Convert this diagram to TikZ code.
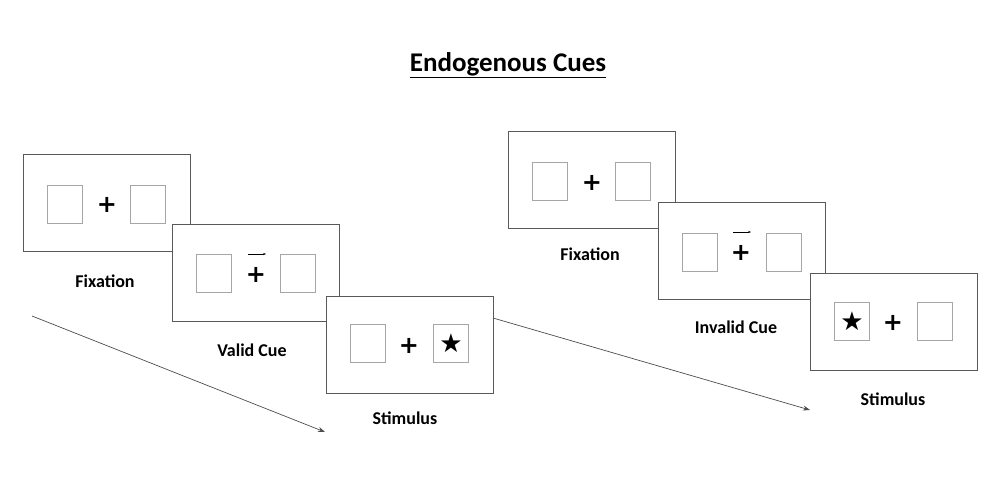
\documentclass[tikz,border=0pt]{standalone}
\usepackage{fontspec}
\setmainfont{Carlito}
\newfontfamily\symf{DejaVu Sans}
\usetikzlibrary{arrows.meta}
\begin{document}
\begin{tikzpicture}[x=1pt,y=-1pt,
 frame/.style={draw=black!65,line width=0.9pt,fill=white,minimum width=167pt,minimum height=97pt,inner sep=0},
 sq/.style={draw=black!35,line width=0.9pt,minimum width=35pt,minimum height=38pt,inner sep=0},
 plus/.style={font=\symf\bfseries\fontsize{24}{24}\selectfont,inner sep=0},
 star/.style={font=\symf\fontsize{26}{26}\selectfont},
 lab/.style={font=\bfseries\fontsize{18}{20}\selectfont},
 flow/.style={draw=black!70,line width=0.7pt,-{Stealth[length=7pt,width=5pt]}}]
\useasboundingbox (0,0) rectangle (1003,479);
\node[font=\bfseries\fontsize{27}{30}\selectfont] (title) at (508,65) {\underline{Endogenous Cues}};
% left
\node[frame] (f1) at (107,203) {};
\node[sq] (a1) at (65,204) {}; \node[plus] (p1) at (107,205) {+}; \node[sq] (b1) at (148,204) {};
\node[frame] (f2) at (256,273) {};
\node[sq] (a2) at (214,273) {}; \node[plus] (p2) at (256,275) {+}; \node[sq] (b2) at (298,273) {};
\coordinate (c2s) at (248,254); \coordinate (c2e) at (266,254);
\draw[-{Stealth[length=3pt]},line width=0.6pt] (c2s) -- (c2e);
\node[frame] (f3) at (410,345) {};
\node[sq] (a3) at (368,343) {}; \node[plus] (p3) at (409,346) {+}; \node[sq,star] (b3) at (451,343) {★};
\node[lab] (l1) at (105,281) {Fixation};
\node[lab] (l2) at (252,350) {Valid Cue};
\node[lab] (l3) at (405,418) {Stimulus};
\coordinate (s1) at (32,316); \coordinate (e1) at (325,432);
\draw[flow] (s1) -- (e1);
% right
\node[frame] (g1) at (592,180) {};
\node[sq] (d1) at (550,181) {}; \node[plus] (q1) at (592,183) {+}; \node[sq] (e1b) at (633,181) {};
\node[frame] (g2) at (742,251) {};
\node[sq] (d2) at (700,252) {}; \node[plus] (q2) at (741,253) {+}; \node[sq] (e2) at (784,252) {};
\coordinate (c3s) at (733,232); \coordinate (c3e) at (751,232);
\draw[-{Stealth[length=3pt]},line width=0.6pt] (c3s) -- (c3e);
\node[frame] (g3) at (894,322) {};
\node[sq,star] (d3) at (852,321) {★}; \node[plus] (q3) at (893,323) {+}; \node[sq] (e3) at (935,321) {};
\node[lab] (m1) at (590,254) {Fixation};
\node[lab] (m2) at (736,327) {Invalid Cue};
\node[lab] (m3) at (893,399) {Stimulus};
\coordinate (s2) at (493,318); \coordinate (e2b) at (810,410);
\draw[flow] (s2) -- (e2b);
\end{tikzpicture}
\end{document}
